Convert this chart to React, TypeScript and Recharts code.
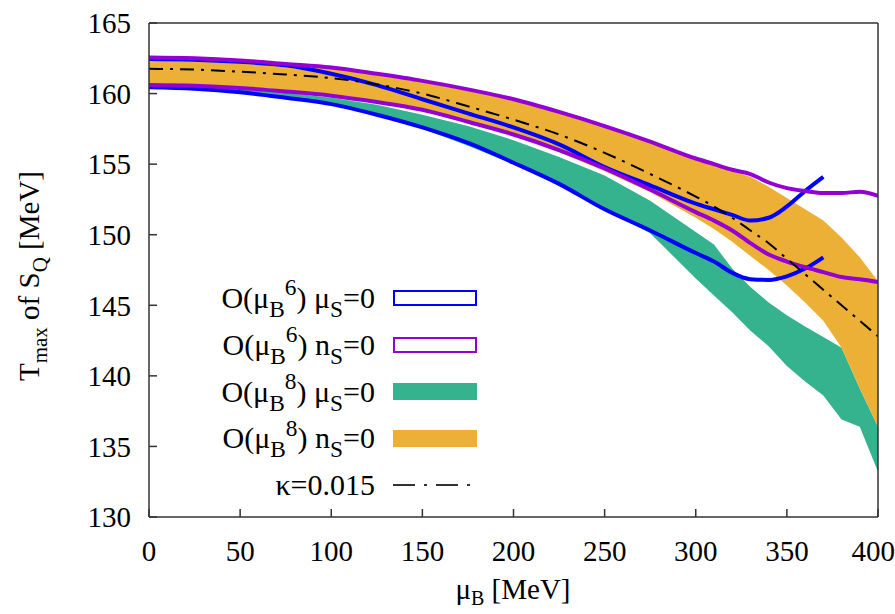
import React from 'react';
import { ComposedChart, Area, Line, XAxis, YAxis, Legend } from 'recharts';

// mu_B grid [MeV]
const muB = [0, 25, 50, 75, 100, 125, 150, 175, 200, 225, 250, 275, 300, 310, 320, 330, 340, 350, 360, 370, 380, 390, 400];

// O(muB^6), mu_S = 0 (blue outline band, stops at 370)
const o6MuSHigh = [162.45, 162.4, 162.25, 162.0, 161.4, 160.6, 159.6, 158.6, 157.6, 156.4, 154.8, 153.5, 152.2, 151.8, 151.4, 151.0, 151.2, 152.0, 153.1, 154.1];
const o6MuSLow = [160.45, 160.35, 160.1, 159.7, 159.25, 158.5, 157.6, 156.5, 155.1, 153.6, 151.8, 150.3, 148.7, 148.1, 147.3, 146.85, 146.8, 147.05, 147.6, 148.4];

// O(muB^6), n_S = 0 (purple outline band)
const o6NSHigh = [162.55, 162.5, 162.35, 162.1, 161.85, 161.4, 160.9, 160.3, 159.6, 158.7, 157.7, 156.6, 155.4, 155.0, 154.6, 154.3, 153.7, 153.3, 153.1, 152.95, 152.95, 153.05, 152.75];
const o6NSLow = [160.6, 160.55, 160.4, 160.15, 159.85, 159.4, 158.85, 158.0, 157.1, 156.0, 154.7, 153.2, 151.6, 151.0, 150.3, 149.4, 148.6, 148.1, 147.7, 147.35, 147.0, 146.85, 146.65];

// O(muB^8), mu_S = 0 (green filled band)
const o8MuSHigh = [160.5, 160.45, 160.3, 160.05, 159.7, 159.2, 158.5, 157.7, 156.7, 155.5, 154.2, 152.4, 150.2, 149.3, 147.6, 146.3, 145.2, 144.3, 143.5, 142.75, 142.0, 139.1, 136.4];
const o8MuSLow = [160.4, 160.3, 160.05, 159.7, 159.2, 158.45, 157.5, 156.3, 155.0, 153.5, 151.8, 150.1, 146.9, 145.7, 144.5, 143.2, 142.1, 140.7, 139.6, 138.6, 136.9, 136.4, 133.2];

// O(muB^8), n_S = 0 (orange filled band)
const o8NSHigh = [162.4, 162.35, 162.25, 162.0, 161.75, 161.3, 160.8, 160.2, 159.5, 158.6, 157.6, 156.5, 155.3, 154.9, 154.5, 154.1, 153.4, 152.6, 151.8, 151.0, 149.8, 148.4, 146.7];
const o8NSLow = [160.7, 160.65, 160.5, 160.25, 159.9, 159.45, 158.9, 158.05, 157.0, 155.85, 154.5, 153.0, 151.2, 150.4, 149.5, 148.5, 147.5, 146.4, 145.2, 143.9, 142.0, 139.1, 136.4];

// kappa = 0.015 curve
const kappaLine = [161.75, 161.7, 161.55, 161.35, 161.1, 160.65, 160.0, 159.1, 158.15, 157.1, 155.8, 154.3, 152.7, 152.0, 151.2, 150.3, 149.4, 148.3, 147.2, 146.1, 145.0, 143.9, 142.8];

const xTicks = [0, 50, 100, 150, 200, 250, 300, 350, 400];
const yTicks = [130, 135, 140, 145, 150, 155, 160, 165];

const BLUE = '#0000ff';
const PURPLE = '#9400d3';
const GREEN = '#35b28e';
const ORANGE = '#ebb035';
const FONT = '"Liberation Serif", "Times New Roman", serif';

const legendItems = [
  { order: '6', sym: 'μ', color: BLUE, kind: 'outline' },
  { order: '6', sym: 'n', color: PURPLE, kind: 'outline' },
  { order: '8', sym: 'μ', color: GREEN, kind: 'fill' },
  { order: '8', sym: 'n', color: ORANGE, kind: 'fill' },
];

const data = muB.map((mu, i) => ({
  mu,
  blueHigh: o6MuSHigh[i] ?? null,
  blueLow: o6MuSLow[i] ?? null,
  purpleHigh: o6NSHigh[i],
  purpleLow: o6NSLow[i],
  green: [o8MuSLow[i], o8MuSHigh[i]],
  orange: [o8NSLow[i], o8NSHigh[i]],
  kappa: kappaLine[i],
}));

const sub = { fontSize: '0.78em', position: 'relative' as const, top: '0.38em' };
const sup = { fontSize: '0.78em', position: 'relative' as const, top: '-0.55em' };

const renderLegend = () => (
  <div style={{ fontFamily: FONT, fontSize: 30, color: '#000', lineHeight: 1 }}>
    {legendItems.map((it, i) => (
      <div key={i} style={{ display: 'flex', alignItems: 'center', height: 46.7 }}>
        <span style={{ width: 225, textAlign: 'right', whiteSpace: 'nowrap' }}>
          O(μ<span style={sub}>B</span><span style={sup}>{it.order}</span>) {it.sym}<span style={sub}>S</span>=0
        </span>
        <span
          style={{
            marginLeft: 18,
            width: it.kind === 'outline' ? 80 : 84,
            height: it.kind === 'outline' ? 12 : 17,
            border: it.kind === 'outline' ? `2px solid ${it.color}` : 'none',
            background: it.kind === 'fill' ? it.color : 'transparent',
          }}
        />
      </div>
    ))}
    <div style={{ display: 'flex', alignItems: 'center', height: 46.7 }}>
      <span style={{ width: 225, textAlign: 'right' }}>κ=0.015</span>
      <svg width={84} height={6} style={{ marginLeft: 18 }}>
        <line x1={0} y1={3} x2={84} y2={3} stroke="#333" strokeWidth={2} strokeDasharray="22 9 3 9" />
      </svg>
    </div>
  </div>
);

const YTitle = () => (
  <text transform="translate(39, 276) rotate(-90)" textAnchor="middle" fontFamily={FONT} fontSize={29} fill="#000">
    T<tspan dy={8} fontSize={21}>max</tspan>
    <tspan dy={-8}> of S</tspan>
    <tspan dy={8} fontSize={21}>Q</tspan>
    <tspan dy={-8}> [MeV]</tspan>
  </text>
);

const XTitle = () => (
  <text x={513} y={599} textAnchor="middle" fontFamily={FONT} fontSize={29} fill="#000">
    μ<tspan dy={6} fontSize={20}>B</tspan>
    <tspan dy={-6}> [MeV]</tspan>
  </text>
);

const tickStyle = { fontSize: 29, fill: '#000', fontFamily: FONT };
const axisStroke = '#333';

export default function App() {
  return (
    <div style={{ position: 'absolute', left: 0, top: 0, background: '#fff' }}>
      <ComposedChart width={895} height={614} data={data} margin={{ top: 22, right: 16, bottom: 0, left: 0 }}>
        <XAxis
          dataKey="mu"
          type="number"
          domain={[0, 400]}
          ticks={xTicks}
          allowDataOverflow
          height={97}
          tick={tickStyle}
          tickSize={-8}
          tickMargin={31}
          stroke={axisStroke}
          strokeWidth={1.5}
          label={<XTitle />}
        />
        <XAxis
          xAxisId="top"
          orientation="top"
          dataKey="mu"
          type="number"
          domain={[0, 400]}
          ticks={xTicks}
          allowDataOverflow
          height={1}
          tick={false}
          tickSize={-8}
          stroke={axisStroke}
          strokeWidth={1.5}
        />
        <YAxis
          type="number"
          domain={[130, 165]}
          ticks={yTicks}
          allowDataOverflow
          width={149}
          tick={tickStyle}
          tickSize={-8}
          tickMargin={26}
          stroke={axisStroke}
          strokeWidth={1.5}
          label={<YTitle />}
        />
        <YAxis
          yAxisId="right"
          orientation="right"
          type="number"
          domain={[130, 165]}
          ticks={yTicks}
          allowDataOverflow
          width={1}
          tick={false}
          tickSize={-8}
          stroke={axisStroke}
          strokeWidth={1.5}
        />
        <Area type="linear" dataKey="green" fill={GREEN} fillOpacity={1} stroke="none" isAnimationActive={false} activeDot={false} />
        <Area type="linear" dataKey="orange" fill={ORANGE} fillOpacity={1} stroke="none" isAnimationActive={false} activeDot={false} />
        <Line type="monotone" dataKey="blueHigh" stroke={BLUE} strokeWidth={4} dot={false} activeDot={false} isAnimationActive={false} />
        <Line type="monotone" dataKey="blueLow" stroke={BLUE} strokeWidth={4} dot={false} activeDot={false} isAnimationActive={false} />
        <Line type="monotone" dataKey="purpleHigh" stroke={PURPLE} strokeWidth={4} dot={false} activeDot={false} isAnimationActive={false} />
        <Line type="monotone" dataKey="purpleLow" stroke={PURPLE} strokeWidth={4} dot={false} activeDot={false} isAnimationActive={false} />
        <Line type="monotone" dataKey="kappa" stroke="#000" strokeWidth={2} strokeDasharray="14 7 3 7" dot={false} activeDot={false} isAnimationActive={false} />
        <Legend
          content={renderLegend}
          layout="horizontal"
          verticalAlign="middle"
          align="center"
          wrapperStyle={{ position: 'absolute', left: 150, top: 275, width: 'auto' }}
        />
      </ComposedChart>
    </div>
  );
}
